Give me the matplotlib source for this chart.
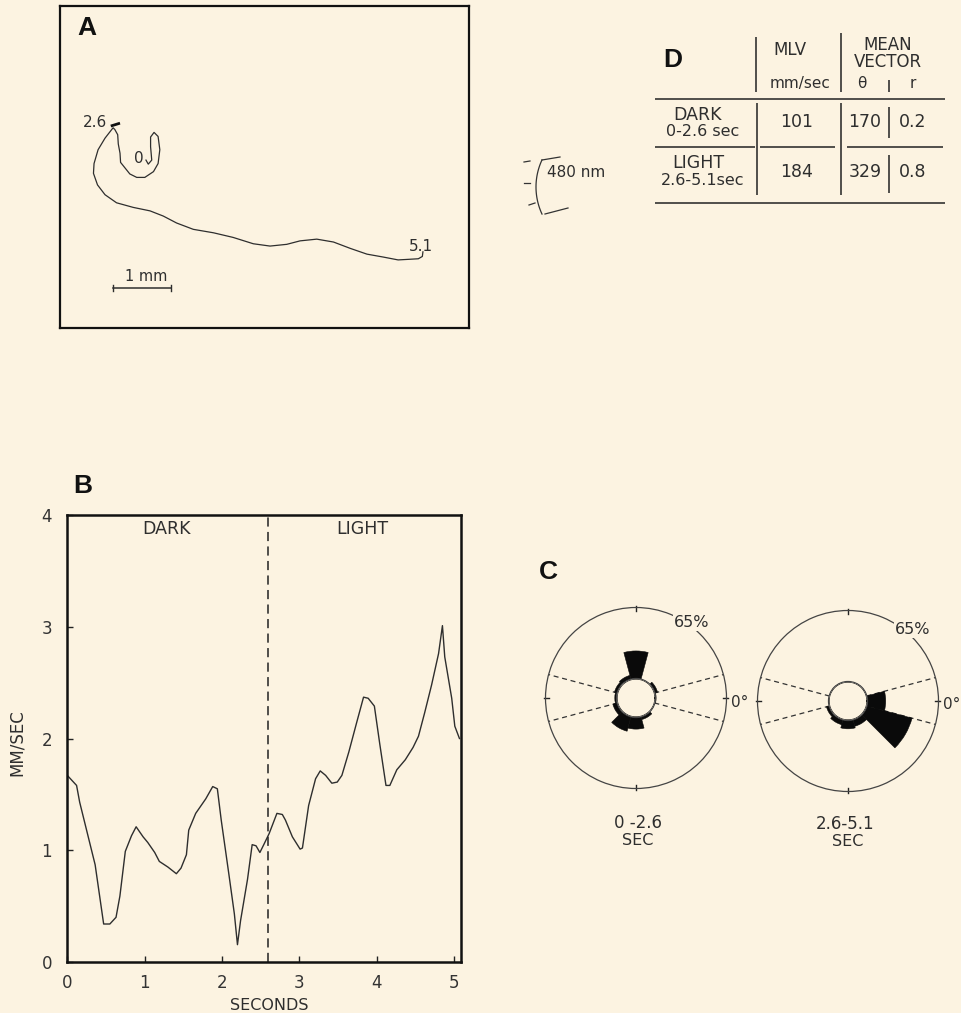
import numpy as np
import matplotlib
matplotlib.use('Agg')
import matplotlib.pyplot as plt
from matplotlib.patches import Circle

# ---------------- data ----------------
# Panel A: swimming track (mm)
track_x = [1.49, 1.53, 1.59, 1.57, 1.57, 1.63, 1.70, 1.73, 1.70, 1.62, 1.47, 1.33, 1.21,
           1.13, 1.05, 1.04, 1.01, 1.00, 0.95, 0.92, 0.78, 0.66, 0.59, 0.58, 0.65, 0.78,
           0.98, 1.27, 1.56, 1.79, 2.02, 2.31, 2.66, 3.00, 3.35, 3.64, 3.93, 4.16, 4.45,
           4.74, 5.03, 5.32, 5.60, 5.86, 6.04, 6.21, 6.28, 6.29]
track_y = [2.91, 2.84, 2.91, 3.14, 3.31, 3.39, 3.32, 3.09, 2.85, 2.71, 2.61, 2.61, 2.67,
           2.77, 2.87, 3.03, 3.19, 3.35, 3.44, 3.47, 3.29, 3.09, 2.85, 2.68, 2.48, 2.31,
           2.17, 2.09, 2.03, 1.94, 1.82, 1.71, 1.65, 1.57, 1.46, 1.42, 1.45, 1.51, 1.54,
           1.49, 1.38, 1.28, 1.23, 1.18, 1.19, 1.20, 1.24, 1.32]
track_time_labels = ['0', '2.6', '5.1']
scale_bar_mm = 1.0

# Panel B: speed vs time
time_s = [0, 0.12, 0.16, 0.36, 0.47, 0.55, 0.63, 0.68, 0.75, 0.83, 0.89, 0.98, 1.04, 1.13,
          1.19, 1.30, 1.41, 1.47, 1.54, 1.57, 1.66, 1.79, 1.88, 1.94, 1.99, 2.09, 2.16,
          2.20, 2.24, 2.33, 2.39, 2.44, 2.49, 2.54, 2.61, 2.71, 2.78, 2.82, 2.91, 3.01,
          3.04, 3.12, 3.21, 3.27, 3.34, 3.42, 3.49, 3.55, 3.64, 3.74, 3.83, 3.89, 3.97,
          4.04, 4.12, 4.17, 4.26, 4.37, 4.47, 4.54, 4.62, 4.71, 4.80, 4.85, 4.88, 4.97,
          5.01, 5.07]
speed = [1.67, 1.58, 1.43, 0.87, 0.34, 0.34, 0.40, 0.59, 0.99, 1.13, 1.21, 1.12, 1.07, 0.98,
         0.90, 0.85, 0.79, 0.84, 0.96, 1.18, 1.33, 1.46, 1.57, 1.55, 1.27, 0.78, 0.43,
         0.155, 0.37, 0.74, 1.05, 1.04, 0.98, 1.05, 1.15, 1.33, 1.32, 1.27, 1.12, 1.01,
         1.02, 1.40, 1.64, 1.71, 1.67, 1.60, 1.61, 1.67, 1.88, 2.14, 2.37, 2.36, 2.29,
         1.95, 1.58, 1.58, 1.72, 1.81, 1.92, 2.02, 2.23, 2.48, 2.76, 3.01, 2.73, 2.36,
         2.11, 2.00]
switch_time = 2.6
b_xticks = [0, 1, 2, 3, 4, 5]
b_yticks = [0, 1, 2, 3, 4]
phase_labels = ['DARK', 'LIGHT']

# Panel C: orientation histograms (% per 30 deg bin)
bin_centers_deg = [0, 30, 60, 90, 120, 150, 180, 210, 240, 270, 300, 330]
dark_pct = [1, 3, 0, 25.5, 4, 3, 2, 4.5, 14, 11, 3, 0]
light_pct = [17, 0, 0, 0, 0, 0, 0, 3, 5, 8, 6.5, 43]
rose_max = 65
rose_titles = ['0 -2.6', '2.6-5.1']

# Panel D: table
conditions = ['DARK', 'LIGHT']
periods = ['0-2.6 sec', '2.6-5.1sec']
mlv = ['101', '184']
theta_mean = ['170', '329']
r_mean = ['0.2', '0.8']

# ---------------- figure ----------------
W, H = 962, 1013
fig = plt.figure(figsize=(W / 100, H / 100), dpi=100)
bg = '#fcf3e1'
fig.patch.set_facecolor(bg)
ink = '#2e2e2e'
FONT = 'DejaVu Sans'
BOLD = 'Liberation Sans'


def frac(l, t, r, b):
    return [l / W, 1 - b / H, (r - l) / W, (b - t) / H]


# ---- Panel A ----
mm_px = 57.7
axA = fig.add_axes(frac(60, 6, 469, 328))
axA.set_xlim(0, 409 / mm_px)
axA.set_ylim(0, 322 / mm_px)
axA.set_facecolor('none')
axA.set_xticks([])
axA.set_yticks([])
for s in axA.spines.values():
    s.set_linewidth(1.6)
    s.set_color('#111')
axA.plot(track_x, track_y, color=ink, lw=0.9)
i26 = 19
axA.plot([track_x[i26] - 0.04, track_x[i26] + 0.12], [track_y[i26] + 0.03, track_y[i26] + 0.08],
         color='#111', lw=2.0, solid_capstyle='butt')
axA.text(1.37, 2.94, track_time_labels[0], fontsize=11, family=FONT, color=ink, ha='center', va='center')
axA.text(0.61, 3.57, track_time_labels[1], fontsize=11, family=FONT, color=ink, ha='center', va='center')
axA.text(6.26, 1.42, track_time_labels[2], fontsize=11, family=FONT, color=ink, ha='center', va='center')
sb_x0, sb_y = 0.92, 0.69
axA.plot([sb_x0, sb_x0 + scale_bar_mm], [sb_y, sb_y], color=ink, lw=1.1)
for xx in (sb_x0, sb_x0 + scale_bar_mm):
    axA.plot([xx, xx], [sb_y - 0.05, sb_y + 0.05], color=ink, lw=1.0)
axA.text(sb_x0 + scale_bar_mm / 2 + 0.08, 0.89, f'{scale_bar_mm:g} mm', fontsize=10.5, family=FONT,
         color=ink, ha='center', va='center')

# ---- Panel B ----
axB = fig.add_axes(frac(67.3, 515, 461, 962))
axB.set_facecolor('none')
axB.set_xlim(0, 5.09)
axB.set_ylim(0, 4)
axB.plot(time_s, speed, color=ink, lw=1.0)
axB.axvline(switch_time, color='#222', lw=1.1, linestyle=(0, (6, 3.5)))
axB.set_xticks(b_xticks)
axB.set_yticks(b_yticks)
axB.tick_params(direction='in', length=4, width=1, colors='#222', labelsize=12, labelcolor='#333')
axB.tick_params(axis='x', pad=9)
axB.tick_params(axis='y', pad=11)
for lab in axB.get_xticklabels() + axB.get_yticklabels():
    lab.set_family(FONT)
for s in axB.spines.values():
    s.set_linewidth(1.8)
    s.set_color('#111')

# ---- Panel C ----
offset = 19 / (90.5 - 19) * rose_max


def rose(cx, cy, rad, values):
    ax = fig.add_axes(frac(cx - rad, cy - rad, cx + rad, cy + rad), projection='polar')
    ax.set_facecolor('none')
    ax.set_ylim(0, rose_max)
    ax.set_rorigin(-offset)
    ax.bar(np.deg2rad(bin_centers_deg), values, width=np.deg2rad(30), bottom=0,
           color='#0a0a0a', edgecolor='#0a0a0a', lw=0.4, zorder=3)
    ax.grid(False)
    ax.set_xticks([])
    ax.set_yticks([])
    ax.spines['polar'].set_linewidth(0.9)
    ax.spines['polar'].set_color('#444')
    if 'inner' in ax.spines:
        ax.spines['inner'].set_visible(False)
    for th in (15, 165, 195, 345):
        ax.plot([np.deg2rad(th)] * 2, [0, rose_max], color='#333', lw=0.9,
                linestyle=(0, (4, 3)), zorder=2)
    for th in (0, 90, 180, 270):
        ax.plot([np.deg2rad(th)] * 2, [rose_max - 3, rose_max + 1.5], color='#222', lw=1.0,
                clip_on=False, zorder=2)
    ax.add_patch(Circle((0.5, 0.5), 19.5 / (2 * rad), transform=ax.transAxes, fc='#fffbf2',
                        ec='#444', lw=0.9, zorder=5))
    return ax


rose(636, 698, 90.5, dark_pct)
rose(848, 701, 90.5, light_pct)

# ---------------- overlay (labels, table, bracket) ----------------
ov = fig.add_axes([0, 0, 1, 1], zorder=10)
ov.set_xlim(0, W)
ov.set_ylim(H, 0)
ov.axis('off')


def T(x, y, s, size=12, **kw):
    kw.setdefault('ha', 'center')
    kw.setdefault('va', 'center')
    kw.setdefault('color', ink)
    kw.setdefault('family', FONT)
    ov.text(x, y, s, fontsize=size, **kw)


for lab, x, y in (('A', 87, 28), ('B', 83, 486), ('C', 548, 572), ('D', 673, 60)):
    T(x, y, lab, 19, family=BOLD, weight='bold', color='#111')

# panel B labels
T(167, 529, phase_labels[0], 12.5)
T(362, 529, phase_labels[1], 12.5)
T(17, 743, 'MM/SEC', 12, rotation=90)
T(269, 1005, 'SECONDS', 11.5)

# panel C labels
T(638, 823, rose_titles[0], 12)
T(638, 840, 'SEC', 11.5)
T(845, 824, rose_titles[1], 12)
T(848, 841, 'SEC', 11.5)
for x, y in ((692, 622), (913, 629)):
    ov.text(x, y, f'{rose_max}%', fontsize=11.5, family=FONT, color=ink, ha='center', va='center',
            bbox=dict(boxstyle='square,pad=0.1', fc=bg, ec='none'))
T(731, 702, '0°', 11, ha='left')
T(943, 704, '0°', 11, ha='left')

# 480 nm light source bracket
ang = np.deg2rad(np.linspace(155, 205, 40))
ov.plot(600 + 64 * np.cos(ang), 187 + 64 * np.sin(ang), color='#333', lw=0.9)
ov.plot([542, 560], [160, 157], color='#333', lw=0.9)
ov.plot([545, 568], [214, 208], color='#333', lw=0.9)
for (x0, y0, x1, y1) in ((524, 162, 530, 161), (524, 183, 530, 183), (529, 205, 535, 203)):
    ov.plot([x0, x1], [y0, y1], color='#333', lw=0.9)
T(547, 172, '480 nm', 11, ha='left')

# panel D table
lc = '#222'
lw_t = 1.1


def L(x0, y0, x1, y1, lw=lw_t):
    ov.plot([x0, x1], [y0, y1], color=lc, lw=lw, solid_capstyle='butt')


L(756, 37, 756, 92)
L(841, 33, 841, 92)
L(889, 80, 889, 92)
L(655, 99, 945, 99)
L(757, 103, 757, 195)
L(841, 103, 841, 195)
L(889, 107, 889, 138)
L(889, 155, 889, 193)
L(655, 147, 755, 147)
L(760, 147, 835, 147)
L(847, 147, 943, 147)
L(655, 203, 945, 203)

T(790, 50, 'MLV', 12)
T(888, 45, 'MEAN', 12)
T(888, 62, 'VECTOR', 12)
T(800, 83, 'mm/sec', 11)
T(862, 83, 'θ', 11)
T(913, 83, 'r', 11)
row_y = [(115, 131, 122), (163, 180, 172)]
for i, (y1, y2, yv) in enumerate(row_y):
    T(698, y1, conditions[i], 12.5)
    T(703, y2, periods[i], 11.5)
    T(797, yv, mlv[i], 12.5)
    T(865, yv, theta_mean[i], 12.5)
    T(913, yv, r_mean[i], 12.5)

fig.savefig('out.png', dpi=100, facecolor=bg)
